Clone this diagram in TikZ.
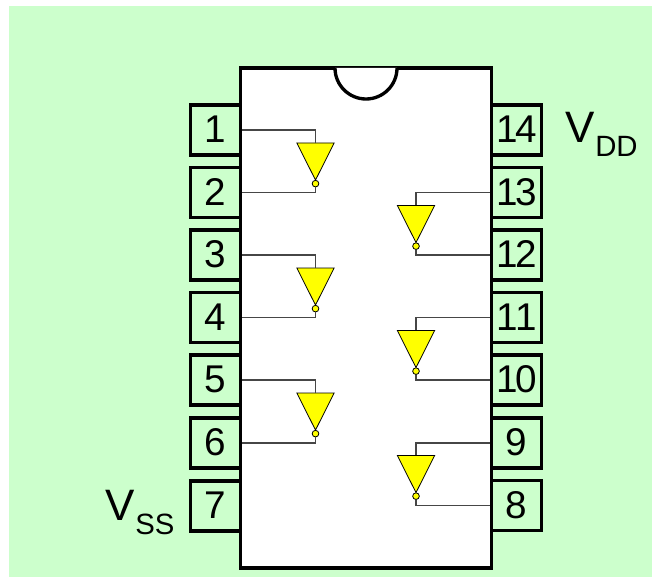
\documentclass[tikz,border=0pt]{standalone}
\usepackage{fontspec}
\setmainfont{Liberation Sans}
\usetikzlibrary{shapes.geometric}
\definecolor{bggreen}{RGB}{204,255,204}
\definecolor{wiregray}{RGB}{70,70,70}
\definecolor{invyellow}{RGB}{255,255,0}
\newcommand{\volt}[1]{\fontsize{33}{33}\selectfont V\kern0.5pt\raisebox{-10.5pt}{\fontsize{22}{22}\selectfont #1}}
\newcommand{\twodig}[2]{#1\kern-1.5pt#2}
\tikzset{
  x=0.75pt,y=-0.75pt,
  pinbox/.style={draw=black,fill=bggreen,line width=2.5pt,minimum width=37.5pt,minimum height=37.5pt,inner sep=0pt,font=\fontsize{29}{29}\selectfont},
  chip/.style={draw=black,fill=white,line width=2.5pt},
  notchline/.style={draw=black,line width=2.5pt},
  inv/.style={isosceles triangle,isosceles triangle stretches,shape border rotate=-90,draw=black,fill=invyellow,line width=0.6pt,minimum width=28pt,minimum height=27.8pt,inner sep=0pt},
  bubble/.style={circle,draw=black,fill=invyellow,line width=0.6pt,minimum size=5pt,inner sep=0pt},
  wire/.style={draw=wiregray,line width=0.8pt},
  supply/.style={anchor=base west,inner sep=0pt}
}
\begin{document}
\begin{tikzpicture}
\useasboundingbox (0,0) rectangle (652,577);
\fill[bggreen] (9,6) rectangle (652,577);
\path[chip] (240.5,68) rectangle (491.5,568);
\path[notchline,fill=white] (335,68) arc[start angle=180,end angle=0,radius=31] ;
\foreach \n/\y in {1/130,2/192.5,3/255,4/317.5,5/380,6/443,7/506}
  \node[pinbox] (p\n) at (215.5,\y) {\raisebox{1.1pt}{\n}};
\foreach \n/\t/\y in {14/\twodig14/130,13/\twodig13/192.5,12/\twodig12/255,11/\twodig11/317.5,10/\twodig10/380,9/9/443,8/8/505.5}
  \node[pinbox] (p\n) at (516.5,\y) {\raisebox{1.1pt}{\t}};
% left inverters
\foreach \k/\a/\b/\y in {a/1/2/154.5,b/3/4/279.5,c/5/6/404.5}{
  \node[inv] (inv\k) at (315.5,\y) {};
  \node[bubble] (bub\k) at ([yshift=-1.9pt]inv\k.apex) {};
  \draw[wire] (p\a.east) -| (inv\k.lower side);
  \draw[wire] (p\b.east) -| (bub\k.south);
}
% right inverters
\foreach \k/\a/\b/\y in {d/13/12/217,e/11/10/342,f/9/8/467}{
  \node[inv] (inv\k) at (416,\y) {};
  \node[bubble] (bub\k) at ([yshift=-1.9pt]inv\k.apex) {};
  \draw[wire] (p\a.west) -| (inv\k.lower side);
  \draw[wire] (p\b.west) -| (bub\k.south);
}
\node[supply] (vdd) at (565,143) {\volt{DD}};
\node[supply] (vss) at (105,520) {\volt{SS}};
\end{tikzpicture}
\end{document}
